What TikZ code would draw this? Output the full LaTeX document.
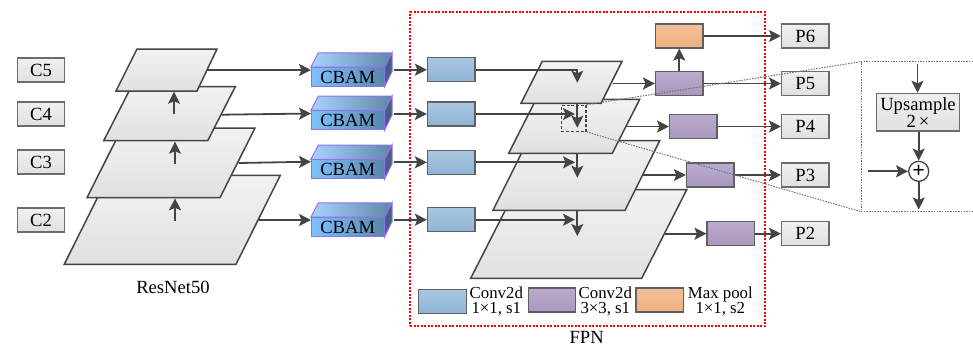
\documentclass[tikz,border=0pt]{standalone}
\usepackage{fontspec}
\setmainfont{Liberation Serif}
\usetikzlibrary{arrows.meta,calc}
\definecolor{ink}{HTML}{444444}
\definecolor{edgegray}{HTML}{606060}
\definecolor{cbamedge}{HTML}{8F70F0}
\definecolor{blueT}{HTML}{A9C6E1}\definecolor{blueB}{HTML}{8FB4D6}
\definecolor{purpT}{HTML}{BBABCE}\definecolor{purpB}{HTML}{A898BE}
\definecolor{orT}{HTML}{F3C09A}\definecolor{orB}{HTML}{EEB07C}
\definecolor{cbL}{HTML}{80C0FF}\definecolor{cbR}{HTML}{5A86AC}
\definecolor{cbtL}{HTML}{A8D4FF}\definecolor{cbtR}{HTML}{6088A8}
\definecolor{cbS}{HTML}{44627F}
\tikzset{
  x=1pt,y=-1pt,
  fs18/.style={font=\fontsize{18.6}{19}\selectfont},
  wire/.style={draw=ink,line width=1.8pt,-{Stealth[length=12pt,width=12pt,inset=2.5pt]}},
  boxbase/.style={draw=#1,line width=1.2pt,inner sep=0pt,minimum width=47.5pt,minimum height=24pt},
  labelbox/.style={boxbase=gray!85!black,top color=white!94!black,bottom color=white!88!black,fs18},
  bluebox/.style={boxbase=edgegray,top color=blueT,bottom color=blueB},
  purplebox/.style={boxbase=edgegray,top color=purpT,bottom color=purpB},
  orangebox/.style={boxbase=edgegray,top color=orT,bottom color=orB},
  sheet/.style={draw=ink,line width=1.5pt,top color=white!95!black,bottom color=white!88!black},
  cbamfront/.style={draw=cbamedge,line width=1pt,left color=cbL,right color=cbR,
    inner sep=0pt,minimum width=72.7pt,minimum height=18.7pt,fs18},
  zoomline/.style={draw=gray!90!black,line width=1pt,dash pattern=on 1.5pt off 1.2pt},
  fpnframe/.style={draw=red,line width=1.8pt,dash pattern=on 2pt off 1.5pt},
  legendtext/.style={font=\fontsize{16.8}{15}\selectfont,align=center,inner sep=0pt},
  caption/.style={fs18,inner sep=0pt},
  sumnode/.style={circle,draw=ink,line width=1.3pt,fill=white,minimum size=20pt,inner sep=0pt,font=\fontsize{22}{22}\selectfont\bfseries},
}
\newcommand{\cbamblock}[2]{%
  \node[cbamfront] (#1) at (347.7,#2) {\raisebox{-2pt}{CBAM}};
  \path[draw=cbamedge,line width=1pt,left color=cbtL,right color=cbtR]
    (#1.north west) -- ++(7.5,-14.3) -- ++(72.7,0) -- (#1.north east) -- cycle;
  \path[draw=cbamedge,line width=1pt,fill=cbS]
    (#1.north east) -- ++(7.5,-14.3) -- ++(0,18.7) -- (#1.south east) -- cycle;
}
\begin{document}
\begin{tikzpicture}
\useasboundingbox (0,0) rectangle (973,346);

% level tags on the left
\node[labelbox] (c5) at (41,70) {C5};
\node[labelbox] (c4) at (41,114) {C4};
\node[labelbox] (c3) at (41,162) {C3};
\node[labelbox] (c2) at (41,220) {C2};

% backbone sheets
\path[sheet] (108.6,175.3) -- (280.3,175.3) -- (236,264.3) -- (64.3,264.3) -- cycle;
\path[sheet] (122,128) -- (255,128) -- (220,197.7) -- (87,197.7) -- cycle;
\path[sheet] (131.3,86.7) -- (235.3,86.7) -- (207.7,140.7) -- (103.7,140.7) -- cycle;
\path[sheet] (137,49) -- (217,49) -- (197,91) -- (116,91) -- cycle;

\coordinate (up2a) at (175,220.7); \coordinate (up2b) at (175,198.3);
\coordinate (up3a) at (175,163.5); \coordinate (up3b) at (175,141.7);
\coordinate (up4a) at (174,113.5); \coordinate (up4b) at (174,91.7);
\draw[wire] (up2a) -- (up2b);
\draw[wire] (up3a) -- (up3b);
\draw[wire] (up4a) -- (up4b);

\coordinate (s5) at (207,70);
\coordinate (s4) at (221.7,114.7);
\coordinate (s3) at (238.7,163);
\coordinate (s2) at (258.7,220);

% CBAM
\cbamblock{cb1}{77}
\cbamblock{cb2}{120.3}
\cbamblock{cb3}{169.2}
\cbamblock{cb4}{227}

\coordinate (i1) at (311,70);
\coordinate (i2) at (311,113.5);
\coordinate (i3) at (311,161.7);
\coordinate (i4) at (311,220);
\draw[wire] (s5) -- (i1);
\draw[wire] (s4) -- (i2);
\draw[wire] (s3) -- (i3);
\draw[wire] (s2) -- (i4);

% FPN frame
\node[fpnframe,minimum width=355pt,minimum height=314pt,inner sep=0pt] (fpn) at (587.5,169) {};

% FPN sheets
\path[sheet] (515.7,189.7) -- (686.7,189.7) -- (641.7,278.3) -- (470.7,278.3) -- cycle;
\path[sheet] (527.7,140.7) -- (659.7,140.7) -- (625,210.3) -- (493,210.3) -- cycle;
\path[sheet] (536,99.3) -- (639.7,99.3) -- (612.3,153.3) -- (508.7,153.3) -- cycle;
\path[sheet] (542.3,61.3) -- (622,61.3) -- (601,103.3) -- (521,103.3) -- cycle;

% conv 1x1 boxes
\node[bluebox] (b1) at (451.2,69.7) {};
\node[bluebox] (b2) at (451.2,114) {};
\node[bluebox] (b3) at (451.2,162.3) {};
\node[bluebox] (b4) at (451.2,219.7) {};

% conv 3x3 and pool
\node[purplebox] (p5b) at (679.3,83.5) {};
\node[purplebox] (p4b) at (693.3,126.5) {};
\node[purplebox] (p3b) at (710.2,175) {};
\node[purplebox] (p2b) at (730.8,233.7) {};
\node[orangebox] (pool) at (679.3,36) {};

% outputs
\node[labelbox] (P6) at (805.3,36) {P6};
\node[labelbox] (P5) at (805.3,83.3) {P5};
\node[labelbox] (P4) at (805.3,126.3) {P4};
\node[labelbox] (P3) at (805.3,175) {P3};
\node[labelbox] (P2) at (805.3,233.7) {P2};

% CBAM to conv
\coordinate (o1) at (393.5,69.7);
\coordinate (o2) at (393.5,114);
\coordinate (o3) at (393.5,162.3);
\coordinate (o4) at (393.5,219.7);
\draw[wire] (o1) -- (b1.west);
\draw[wire] (o2) -- (b2.west);
\draw[wire] (o3) -- (b3.west);
\draw[wire] (o4) -- (b4.west);

% conv into FPN sheets
\coordinate (t1) at (577.3,82.7);
\coordinate (t2) at (575,114);
\coordinate (t3) at (575,162.3);
\coordinate (t4) at (575,219.7);
\draw[wire] (b1.east) -| (t1);
\draw[wire] (b2.east) -- (t2);
\draw[wire] (b3.east) -- (t3);
\draw[wire] (b4.east) -- (t4);

% downward merges
\coordinate (d1a) at (577.3,103.3); \coordinate (d1b) at (577.3,127.7);
\coordinate (d2a) at (577.3,153.3); \coordinate (d2b) at (577.3,177.7);
\coordinate (d3a) at (577.3,210.3); \coordinate (d3b) at (577.3,236);
\draw[wire] (d1a) -- (d1b);
\draw[wire] (d2a) -- (d2b);
\draw[wire] (d3a) -- (d3b);

% sheets to conv 3x3
\coordinate (e5) at (612.7,83.5);
\coordinate (e4) at (626,126.5);
\coordinate (e3) at (642.7,175);
\coordinate (e2) at (665,233.7);
\draw[wire] (e5) -- (p5b.west);
\draw[wire] (e4) -- (p4b.west);
\draw[wire] (e3) -- (p3b.west);
\draw[wire] (e2) -- (p2b.west);

% to outputs
\draw[wire] (pool.east) -- (P6.west);
\draw[wire] (p5b.east) -- (P5.west |- p5b.east);
\draw[wire] (p4b.east) -- (P4.west |- p4b.east);
\draw[wire] (p3b.east) -- (P3.west);
\draw[wire] (p2b.east) -- (P2.west);
\draw[wire] (p5b.north) -- (pool.south);

% zoom inset
\node[draw=ink,line width=1.3pt,dash pattern=on 3pt off 1.8pt,inner sep=0pt,minimum width=24.7pt,minimum height=26pt] (focus) at (573.7,118.3) {};
\coordinate (zt) at (861,61.7);
\coordinate (zb) at (861,211.7);
\coordinate (zte) at (973,61.7);
\coordinate (zbe) at (973,211.7);
\draw[zoomline] (focus.north east) -- (zt);
\draw[zoomline] (focus.south east) -- (zb);
\draw[zoomline] (zte) -- (zt) -- (zb) -- (zbe);

\node[labelbox,minimum width=82.6pt,minimum height=37.7pt,align=center,font=\fontsize{18.6}{17}\selectfont] (up) at (918,112.2) {Upsample\\2\,×};
\node[sumnode] (sum) at (918.7,171.3) {+};
\coordinate (zin) at (917.5,64);
\coordinate (zleft) at (868,171.3);
\coordinate (zout) at (918.7,209.5);
\draw[wire] (zin) -- (zin |- up.north);
\draw[wire] (up.south -| sum) -- (sum.north);
\draw[wire] (zleft) -- (sum.west);
\draw[wire] (sum.south) -- (zout);

% legend
\node[bluebox] (lg1) at (442.5,301.3) {};
\node[purplebox] (lg2) at (552,300) {};
\node[orangebox] (lg3) at (659.7,300) {};
\node[legendtext] (lt1) at (496.3,301.5) {Conv2d\\1×1, s1};
\node[legendtext] (lt2) at (605.3,301.5) {Conv2d\\3×3, s1};
\node[legendtext] (lt3) at (720.3,301.5) {Max pool\\1×1, s2};

% captions
\node[caption] (resnet) at (173,287.7) {ResNet50};
\node[caption] (fpnlabel) at (586.7,337.5) {FPN};
\end{tikzpicture}
\end{document}
